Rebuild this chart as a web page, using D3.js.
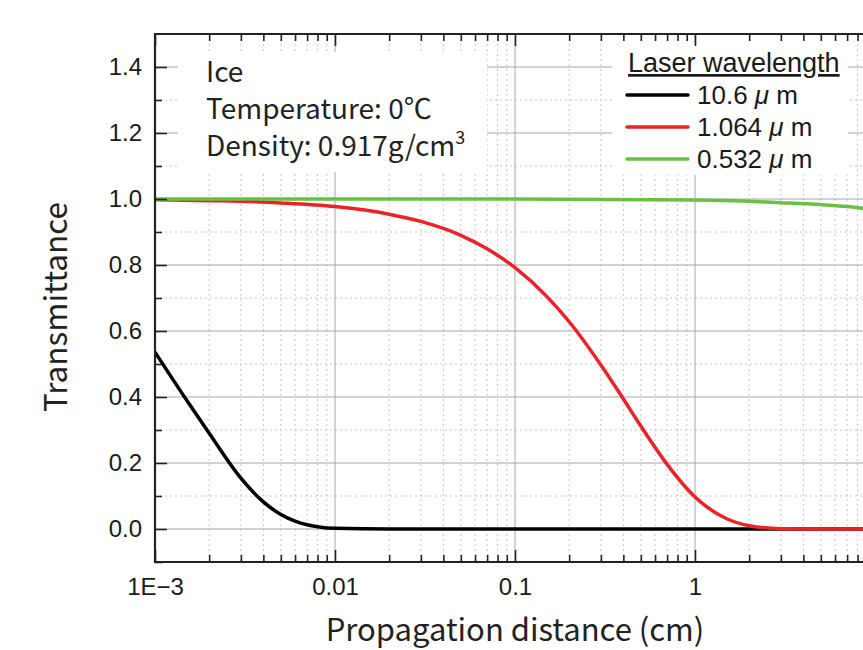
<!DOCTYPE html>
<html lang="en">
<head>
<meta charset="UTF-8">
<title>Transmittance of ice</title>
<script src="https://d3js.org/d3.v7.min.js"></script>
<style>
  body { margin: 0; background: #fff; }
  svg { display: block; }
  .tick text { font-family: "Liberation Sans", Arial, sans-serif; font-size: 24px; fill: #1a1a1a; }
  .jp { font-family: "Noto Sans CJK JP", "Noto Sans", sans-serif; fill: #222; }
  .leg { font-family: "Liberation Sans", Arial, sans-serif; fill: #1a1a1a; }
</style>
</head>
<body>
<script>
  // distance in cm, transmittance
  const blackX = [0.001, 0.0015, 0.002, 0.003, 0.004, 0.005, 0.006, 0.007, 0.008, 0.01, 0.02, 0.1, 1, 10]
  const blackT = [0.536, 0.39, 0.29, 0.154, 0.082, 0.044, 0.024, 0.013, 0.007, 0.002, 0, 0, 0, 0]

  const redX = [0.001, 0.002, 0.003, 0.005, 0.01, 0.02, 0.03, 0.05, 0.07, 0.1, 0.15, 0.2, 0.3, 0.4, 0.5, 0.7, 1, 1.5, 2, 3, 5, 10]
  const redT = [0.998, 0.995, 0.993, 0.988, 0.977, 0.954, 0.932, 0.89, 0.849, 0.792, 0.705, 0.628, 0.497, 0.394, 0.312, 0.196, 0.097, 0.031, 0.01, 0.001, 0, 0]

  const greenX = [0.001, 0.01, 0.1, 1, 2, 3, 5, 7, 10]
  const greenT = [1.0, 1.0, 1.0, 0.997, 0.993, 0.989, 0.983, 0.977, 0.967]

  const seriesNames = ["10.6", "1.064", "0.532"]
  const seriesColors = ["#000000", "#ec2227", "#6abf45"]

  const xMajor = [0.001, 0.01, 0.1, 1, 10]
  const xLabels = ["1E\u22123", "0.01", "0.1", "1"]
  const yMajor = [0, 0.2, 0.4, 0.6, 0.8, 1.0, 1.2, 1.4]
  const yMinor = [-0.1, 0.1, 0.3, 0.5, 0.7, 0.9, 1.1, 1.3]

  const W = 863, H = 650
  const pl = 155, pt = 34, pb = 562, pw = 720

  const x = d3.scaleLog().domain([1e-3, 10]).range([pl, pl + pw])
  const y = d3.scaleLinear().domain([-0.1, 1.5]).range([pb, pt])

  const xMinor = []
  xMajor.slice(0, -1).forEach(d => { for (let k = 2; k <= 9; k++) xMinor.push(d * k) })

  const svg = d3.select("body").append("svg")
    .attr("width", W).attr("height", H)

  svg.append("defs").append("clipPath").attr("id", "plot")
    .append("rect").attr("x", pl).attr("y", pt).attr("width", pw).attr("height", pb - pt)

  // grid
  const grid = svg.append("g")
  grid.selectAll(".vmin").data(xMinor).enter().append("line")
    .attr("x1", d => x(d)).attr("x2", d => x(d)).attr("y1", pt).attr("y2", pb)
    .attr("stroke", "#c8c8c8").attr("stroke-dasharray", "2,3")
  grid.selectAll(".hmin").data(yMinor).enter().append("line")
    .attr("x1", pl).attr("x2", pl + pw).attr("y1", d => y(d)).attr("y2", d => y(d))
    .attr("stroke", "#c8c8c8").attr("stroke-dasharray", "2,3")
  grid.selectAll(".vmaj").data(xMajor).enter().append("line")
    .attr("x1", d => x(d)).attr("x2", d => x(d)).attr("y1", pt).attr("y2", pb)
    .attr("stroke", "#a6a6a6")
  grid.selectAll(".hmaj").data(yMajor).enter().append("line")
    .attr("x1", pl).attr("x2", pl + pw).attr("y1", d => y(d)).attr("y2", d => y(d))
    .attr("stroke", "#a6a6a6")

  // white boxes behind the annotation and legend
  svg.append("rect").attr("x", 178).attr("y", 52).attr("width", 309).attr("height", 120).attr("fill", "#fff")
  svg.append("rect").attr("x", 612).attr("y", 44).attr("width", 236).attr("height", 131).attr("fill", "#fff")

  // curves
  const line = d3.line().x(d => x(d[0])).y(d => y(d[1])).curve(d3.curveMonotoneX)
  const series = [d3.zip(blackX, blackT), d3.zip(redX, redT), d3.zip(greenX, greenT)]
  svg.append("g").attr("clip-path", "url(#plot)")
    .selectAll("path").data(series).enter().append("path")
    .attr("d", line)
    .attr("fill", "none")
    .attr("stroke", (d, i) => seriesColors[i])
    .attr("stroke-width", 3.5)
    .attr("stroke-linejoin", "round")

  // axes
  const yAxis = svg.append("g").attr("transform", `translate(${pl},0)`)
    .call(d3.axisLeft(y).tickValues(yMajor).tickSize(-12).tickPadding(13).tickFormat(d3.format(".1f")))
  yAxis.select(".domain").remove()
  svg.append("g").attr("transform", `translate(${pl},0)`)
    .call(d3.axisLeft(y).tickValues(yMinor).tickSize(-7).tickFormat(""))
    .select(".domain").remove()

  const xAxis = svg.append("g").attr("transform", `translate(0,${pb})`)
    .call(d3.axisBottom(x).tickValues(xMajor.slice(0, 4)).tickSize(-12).tickPadding(16)
      .tickFormat((d, i) => xLabels[i]))
  xAxis.select(".domain").remove()
  svg.append("g").attr("transform", `translate(0,${pb})`)
    .call(d3.axisBottom(x).tickValues(xMinor).tickSize(-7).tickFormat(""))
    .select(".domain").remove()
  svg.append("g").attr("transform", `translate(0,${pt})`)
    .call(d3.axisTop(x).tickValues(xMajor).tickSize(-12).tickFormat(""))
    .select(".domain").remove()
  svg.append("g").attr("transform", `translate(0,${pt})`)
    .call(d3.axisTop(x).tickValues(xMinor).tickSize(-7).tickFormat(""))
    .select(".domain").remove()
  svg.selectAll(".tick line").attr("stroke", "#222").attr("stroke-width", 1.6)

  // frame
  svg.append("path")
    .attr("d", `M${pl + pw},${pt}H${pl}V${pb}H${pl + pw}`)
    .attr("fill", "none").attr("stroke", "#222").attr("stroke-width", 2.2)

  // axis titles
  svg.append("text").attr("class", "jp")
    .attr("transform", `translate(67,307) rotate(-90)`)
    .attr("text-anchor", "middle").attr("font-size", 31.5)
    .text("Transmittance")
  svg.append("text").attr("class", "jp")
    .attr("x", 515).attr("y", 641)
    .attr("text-anchor", "middle").attr("font-size", 31)
    .text("Propagation distance (cm)")

  // annotation
  const noteLines = ["Ice", "Temperature: 0\u2103", "Density: 0.917g/cm"]
  const noteY = [82, 119, 156]
  noteLines.forEach((t, i) => {
    const el = svg.append("text").attr("class", "jp").attr("font-size", 28)
      .attr("x", 206).attr("y", noteY[i]).text(t)
    if (i === 2) el.append("tspan").attr("dy", -12).attr("font-size", 18).text("3")
  })

  // legend
  svg.append("text").attr("class", "leg")
    .attr("x", 628).attr("y", 72).attr("font-size", 27)
    .attr("text-decoration", "underline")
    .text("Laser wavelength")
  const leg = svg.append("g").selectAll("g").data(seriesNames).enter().append("g")
    .attr("transform", (d, i) => `translate(0,${95 + i * 32})`)
  leg.append("line")
    .attr("x1", 627).attr("x2", 688)
    .attr("stroke", (d, i) => seriesColors[i]).attr("stroke-width", 3.5).attr("stroke-linecap", "round")
  const lt = leg.append("text").attr("class", "leg").attr("x", 697).attr("y", 9).attr("font-size", 26)
  lt.append("tspan").text(d => d + " ")
  lt.append("tspan").attr("font-style", "italic").text("\u03bc")
  lt.append("tspan").text(" m")
</script>
</body>
</html>
